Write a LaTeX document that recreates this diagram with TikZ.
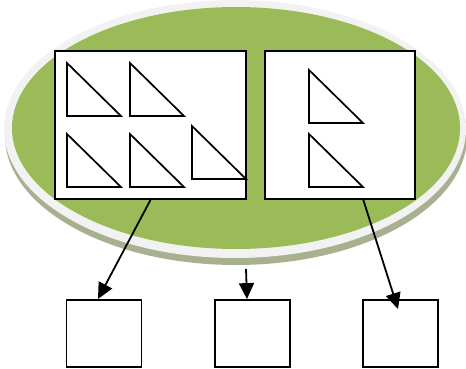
\documentclass[tikz,border=0pt]{standalone}
\usetikzlibrary{positioning,arrows.meta}
\definecolor{grn}{HTML}{9BBB59}
\definecolor{rim}{HTML}{F2F2F2}
\definecolor{shd}{HTML}{A7B08F}
\tikzset{
  box/.style={draw, line width=1.8pt, fill=white, inner sep=0pt},
  leaf/.style={box, minimum width=75pt, minimum height=67pt},
  link/.style={line width=1.8pt, -{Triangle[length=16pt, width=15pt]}},
  tri/.style={draw, line width=1.7pt, line join=miter}
}
\newcommand{\wedgetri}[2]{\draw[tri] (#1,#2) -- (#1,#2-53) -- (#1+54,#2) -- cycle;}
\begin{document}
\begin{tikzpicture}[x=1pt, y=-1pt]
  \useasboundingbox (0,0) rectangle (466,368);
  % the blob
  \fill[shd] (236,136) ellipse [x radius=231, y radius=129];
  \fill[rim] (235,129) ellipse [x radius=231, y radius=129];
  \fill[grn] (236,128) ellipse [x radius=224, y radius=121];
  % two groups
  \node[box, minimum width=191pt, minimum height=148pt] (lgrp) at (150.5,125) {};
  \node[box, minimum width=150pt, minimum height=148pt] (rgrp) at (340,125) {};
  \wedgetri{67}{116}
  \wedgetri{130}{116}
  \wedgetri{67}{187}
  \wedgetri{130}{187}
  \wedgetri{192}{179}
  \wedgetri{309}{123}
  \wedgetri{309}{187}
  % outputs
  \node[leaf] (out1) at (104,333.5) {};
  \node[leaf, right=72pt of out1] (out2) {};
  \node[leaf, right=71pt of out2] (out3) {};
  \coordinate (mid) at (246,269);
  \coordinate (t1) at (98,299);
  \coordinate (t3) at (398,309);
  \coordinate (r0) at (363,199);
  \draw[link] (lgrp.south) -- (t1);
  \draw[link] (mid) -- (out2.north -| 247,0);
  \draw[link] (r0) -- (t3);
\end{tikzpicture}
\end{document}
